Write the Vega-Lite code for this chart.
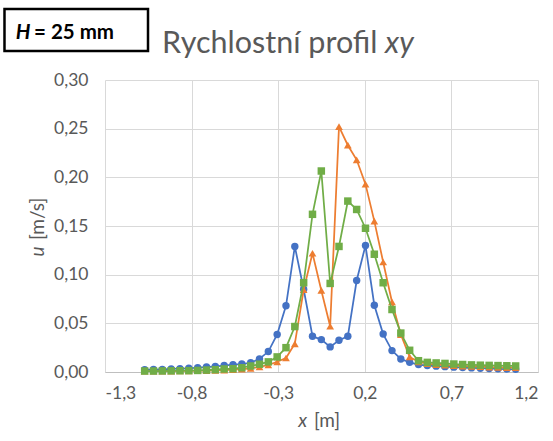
{
  "$schema": "https://vega.github.io/schema/vega-lite/v6.json",
  "width": 433,
  "height": 292,
  "autosize": {"type": "none"},
  "padding": {"left": 105, "top": 80, "right": 15, "bottom": 69},
  "background": "white",
  "config": {
    "view": {"stroke": null},
    "font": "Lato",
    "locale": {"number": {"decimal": ",", "thousands": " ", "grouping": [3], "currency": ["", " Kč"], "minus": "-"}},
    "axis": {"labelFont": "Lato", "labelFontSize": 17.5, "labelColor": "#595959", "gridColor": "#d9d9d9", "gridWidth": 1, "ticks": false, "tickSize": 0, "title": null}
  },
  "data": {"values": [
    {"x":-1.071,"s":"1","u":0.0024},{"x":-1.02,"s":"1","u":0.0025},{"x":-0.969,"s":"1","u":0.0027},{"x":-0.918,"s":"1","u":0.0031},{"x":-0.867,"s":"1","u":0.0034},{"x":-0.816,"s":"1","u":0.0038},{"x":-0.765,"s":"1","u":0.0044},{"x":-0.714,"s":"1","u":0.0051},{"x":-0.663,"s":"1","u":0.0058},{"x":-0.612,"s":"1","u":0.0066},{"x":-0.561,"s":"1","u":0.0075},{"x":-0.51,"s":"1","u":0.0082},{"x":-0.459,"s":"1","u":0.0095},{"x":-0.408,"s":"1","u":0.0135},{"x":-0.357,"s":"1","u":0.021},{"x":-0.306,"s":"1","u":0.0385},{"x":-0.255,"s":"1","u":0.068},{"x":-0.204,"s":"1","u":0.129},{"x":-0.153,"s":"1","u":0.085},{"x":-0.102,"s":"1","u":0.0367},{"x":-0.051,"s":"1","u":0.0333},{"x":0,"s":"1","u":0.0258},{"x":0.051,"s":"1","u":0.0326},{"x":0.102,"s":"1","u":0.0367},{"x":0.153,"s":"1","u":0.094},{"x":0.204,"s":"1","u":0.13},{"x":0.255,"s":"1","u":0.0686},{"x":0.306,"s":"1","u":0.039},{"x":0.357,"s":"1","u":0.022},{"x":0.408,"s":"1","u":0.0134},{"x":0.459,"s":"1","u":0.0099},{"x":0.51,"s":"1","u":0.0076},{"x":0.561,"s":"1","u":0.0066},{"x":0.612,"s":"1","u":0.006},{"x":0.663,"s":"1","u":0.0055},{"x":0.714,"s":"1","u":0.005},{"x":0.765,"s":"1","u":0.0046},{"x":0.816,"s":"1","u":0.0042},{"x":0.867,"s":"1","u":0.0039},{"x":0.918,"s":"1","u":0.0036},{"x":0.969,"s":"1","u":0.0033},{"x":1.02,"s":"1","u":0.003},{"x":1.071,"s":"1","u":0.0028},
    {"x":-1.071,"s":"2","u":0.0008},{"x":-1.02,"s":"2","u":0.0008},{"x":-0.969,"s":"2","u":0.0009},{"x":-0.918,"s":"2","u":0.001},{"x":-0.867,"s":"2","u":0.0011},{"x":-0.816,"s":"2","u":0.0012},{"x":-0.765,"s":"2","u":0.0013},{"x":-0.714,"s":"2","u":0.0015},{"x":-0.663,"s":"2","u":0.0017},{"x":-0.612,"s":"2","u":0.002},{"x":-0.561,"s":"2","u":0.0024},{"x":-0.51,"s":"2","u":0.003},{"x":-0.459,"s":"2","u":0.0038},{"x":-0.408,"s":"2","u":0.0052},{"x":-0.357,"s":"2","u":0.0072},{"x":-0.306,"s":"2","u":0.0105},{"x":-0.255,"s":"2","u":0.0144},{"x":-0.204,"s":"2","u":0.029},{"x":-0.153,"s":"2","u":0.0845},{"x":-0.102,"s":"2","u":0.122},{"x":-0.051,"s":"2","u":0.0838},{"x":0,"s":"2","u":0.047},{"x":0.051,"s":"2","u":0.252},{"x":0.102,"s":"2","u":0.233},{"x":0.153,"s":"2","u":0.218},{"x":0.204,"s":"2","u":0.193},{"x":0.255,"s":"2","u":0.155},{"x":0.306,"s":"2","u":0.113},{"x":0.357,"s":"2","u":0.072},{"x":0.408,"s":"2","u":0.0385},{"x":0.459,"s":"2","u":0.0155},{"x":0.51,"s":"2","u":0.0105},{"x":0.561,"s":"2","u":0.0085},{"x":0.612,"s":"2","u":0.0075},{"x":0.663,"s":"2","u":0.007},{"x":0.714,"s":"2","u":0.0065},{"x":0.765,"s":"2","u":0.006},{"x":0.816,"s":"2","u":0.0057},{"x":0.867,"s":"2","u":0.0054},{"x":0.918,"s":"2","u":0.0051},{"x":0.969,"s":"2","u":0.0048},{"x":1.02,"s":"2","u":0.0046},{"x":1.071,"s":"2","u":0.0044},
    {"x":-1.071,"s":"3","u":0.001},{"x":-1.02,"s":"3","u":0.001},{"x":-0.969,"s":"3","u":0.0011},{"x":-0.918,"s":"3","u":0.0012},{"x":-0.867,"s":"3","u":0.0013},{"x":-0.816,"s":"3","u":0.0014},{"x":-0.765,"s":"3","u":0.0016},{"x":-0.714,"s":"3","u":0.002},{"x":-0.663,"s":"3","u":0.0024},{"x":-0.612,"s":"3","u":0.0031},{"x":-0.561,"s":"3","u":0.0034},{"x":-0.51,"s":"3","u":0.0044},{"x":-0.459,"s":"3","u":0.0062},{"x":-0.408,"s":"3","u":0.008},{"x":-0.357,"s":"3","u":0.0104},{"x":-0.306,"s":"3","u":0.0155},{"x":-0.255,"s":"3","u":0.025},{"x":-0.204,"s":"3","u":0.0467},{"x":-0.153,"s":"3","u":0.0917},{"x":-0.102,"s":"3","u":0.162},{"x":-0.051,"s":"3","u":0.2065},{"x":0,"s":"3","u":0.091},{"x":0.051,"s":"3","u":0.129},{"x":0.102,"s":"3","u":0.1756},{"x":0.153,"s":"3","u":0.167},{"x":0.204,"s":"3","u":0.1477},{"x":0.255,"s":"3","u":0.121},{"x":0.306,"s":"3","u":0.0917},{"x":0.357,"s":"3","u":0.0642},{"x":0.408,"s":"3","u":0.04},{"x":0.459,"s":"3","u":0.0223},{"x":0.51,"s":"3","u":0.0116},{"x":0.561,"s":"3","u":0.0099},{"x":0.612,"s":"3","u":0.0093},{"x":0.663,"s":"3","u":0.0088},{"x":0.714,"s":"3","u":0.0082},{"x":0.765,"s":"3","u":0.0077},{"x":0.816,"s":"3","u":0.0073},{"x":0.867,"s":"3","u":0.007},{"x":0.918,"s":"3","u":0.0068},{"x":0.969,"s":"3","u":0.0066},{"x":1.02,"s":"3","u":0.0064},{"x":1.071,"s":"3","u":0.0062}
  ]},
  "layer": [
    {
      "transform": [{"filter": "datum.s === '1'"}],
      "mark": {"type": "line", "color": "#4472C4", "strokeWidth": 1.75, "point": {"shape": "circle", "size": 55, "filled": true, "color": "#4472C4", "opacity": 1}},
      "encoding": {
        "x": {"field": "x", "type": "quantitative", "scale": {"domain": [-1.3, 1.2], "nice": false, "zero": false},
              "axis": {"values": [-1.3, -0.8, -0.3, 0.2, 0.7, 1.2], "format": ".1f", "labelPadding": 12, "domain": true, "domainColor": "#bfbfbf", "domainWidth": 1, "grid": true}},
        "y": {"field": "u", "type": "quantitative", "scale": {"domain": [0, 0.3], "nice": false, "zero": false},
              "axis": {"values": [0, 0.05, 0.1, 0.15, 0.2, 0.25, 0.3], "format": ".2f", "labelPadding": 17, "domain": false, "grid": true}}
      }
    },
    {
      "transform": [{"filter": "datum.s === '2'"}],
      "mark": {"type": "line", "color": "#ED7D31", "strokeWidth": 1.75, "point": {"shape": "triangle-up", "size": 60, "filled": true, "color": "#ED7D31", "opacity": 1}},
      "encoding": {
        "x": {"field": "x", "type": "quantitative"},
        "y": {"field": "u", "type": "quantitative"}
      }
    },
    {
      "transform": [{"filter": "datum.s === '3'"}],
      "mark": {"type": "line", "color": "#70AD47", "strokeWidth": 1.75, "point": {"shape": "square", "size": 56, "filled": true, "color": "#70AD47", "opacity": 1}},
      "encoding": {
        "x": {"field": "x", "type": "quantitative"},
        "y": {"field": "u", "type": "quantitative"}
      }
    },
    {
      "data": {"values": [{}]},
      "mark": {"type": "rect", "fill": "white", "stroke": "black", "strokeWidth": 2.5},
      "encoding": {
        "x": {"datum": -1.8803, "type": "quantitative"},
        "x2": {"datum": -1.0517},
        "y": {"datum": 0.373, "type": "quantitative"},
        "y2": {"datum": 0.3298}
      }
    },
    {
      "data": {"values": [{}]},
      "mark": {"type": "text", "text": "H", "font": "Lato", "fontSize": 20.5, "fontWeight": "bold", "fontStyle": "italic", "align": "right", "baseline": "alphabetic", "color": "black"},
      "encoding": {"x": {"datum": -1.7301, "type": "quantitative"}, "y": {"datum": 0.3418, "type": "quantitative"}}
    },
    {
      "data": {"values": [{}]},
      "mark": {"type": "text", "text": "= 25 mm", "font": "Lato", "fontSize": 20.5, "fontWeight": "bold", "align": "left", "baseline": "alphabetic", "color": "black"},
      "encoding": {"x": {"datum": -1.7099, "type": "quantitative"}, "y": {"datum": 0.3418, "type": "quantitative"}}
    },
    {
      "data": {"values": [{}]},
      "mark": {"type": "text", "text": "Rychlostní profil", "font": "Lato", "fontSize": 30.5, "align": "right", "baseline": "alphabetic", "color": "#595959"},
      "encoding": {"x": {"datum": 0.2733, "type": "quantitative"}, "y": {"datum": 0.3277, "type": "quantitative"}}
    },
    {
      "data": {"values": [{}]},
      "mark": {"type": "text", "text": "xy", "font": "Lato", "fontSize": 30.5, "fontStyle": "italic", "align": "left", "baseline": "alphabetic", "color": "#595959"},
      "encoding": {"x": {"datum": 0.3166, "type": "quantitative"}, "y": {"datum": 0.3277, "type": "quantitative"}}
    },
    {
      "data": {"values": [{}]},
      "mark": {"type": "text", "text": "x", "font": "Lato", "fontSize": 19, "fontStyle": "italic", "align": "right", "baseline": "alphabetic", "color": "#595959"},
      "encoding": {"x": {"datum": -0.1337, "type": "quantitative"}, "y": {"datum": -0.0562, "type": "quantitative"}}
    },
    {
      "data": {"values": [{}]},
      "mark": {"type": "text", "text": "[m]", "font": "Lato", "fontSize": 19, "align": "left", "baseline": "alphabetic", "color": "#595959"},
      "encoding": {"x": {"datum": -0.0933, "type": "quantitative"}, "y": {"datum": -0.0562, "type": "quantitative"}}
    },
    {
      "data": {"values": [{}]},
      "mark": {"type": "text", "text": "u", "font": "Lato", "fontSize": 19, "fontStyle": "italic", "angle": 270, "align": "right", "baseline": "alphabetic", "color": "#595959"},
      "encoding": {"x": {"datum": -1.655, "type": "quantitative"}, "y": {"datum": 0.1289, "type": "quantitative"}}
    },
    {
      "data": {"values": [{}]},
      "mark": {"type": "text", "text": "[m/s]", "font": "Lato", "fontSize": 19, "angle": 270, "align": "left", "baseline": "alphabetic", "color": "#595959"},
      "encoding": {"x": {"datum": -1.655, "type": "quantitative"}, "y": {"datum": 0.1356, "type": "quantitative"}}
    }
  ]
}
